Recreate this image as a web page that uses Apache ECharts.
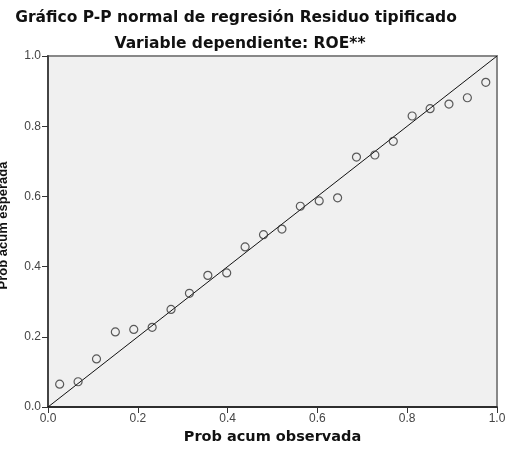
<!DOCTYPE html>
<html><head><meta charset="utf-8">
<script src="https://cdn.jsdelivr.net/npm/echarts@6/dist/echarts.min.js"></script>
<style>html,body{margin:0;padding:0;background:#fff}#c{width:508px;height:454px}</style>
</head><body><div id="c"></div>
<script>
var titleText = "Gráfico P-P normal de regresión Residuo tipificado";
var subtitleText = "Variable dependiente: ROE**";
var xName = "Prob acum observada";
var yName = "Prob acum esperada";
var observed = [0.026,0.067,0.108,0.150,0.191,0.232,0.274,0.315,0.356,0.398,0.439,0.480,0.521,0.562,0.604,0.645,0.687,0.728,0.769,0.811,0.851,0.893,0.934,0.975];
var expected = [0.065,0.072,0.137,0.214,0.221,0.227,0.278,0.324,0.375,0.382,0.456,0.491,0.507,0.572,0.587,0.596,0.712,0.718,0.757,0.829,0.850,0.863,0.881,0.925];
var diagX = [0, 1];
var diagY = [0, 1];

var pts = observed.map(function(v,i){return [v, expected[i]];});
var diag = diagX.map(function(v,i){return [v, diagY[i]];});
var chart = echarts.init(document.getElementById('c'));
var axisCommon = {
  type:'value', min:0, max:1, interval:0.2,
  splitLine:{show:false},
  axisTick:{show:true, length:6, lineStyle:{color:'#333', width:1}},
  axisLabel:{color:'#444', fontSize:12, fontFamily:'Liberation Sans, Arial', formatter:function(v){return v.toFixed(1);}},
  nameLocation:'middle'
};
chart.setOption({
  animation:false,
  title:[
    {text:titleText, left:231, textAlign:'center', top:5, textStyle:{fontSize:15.5, fontWeight:'bold', color:'#111', fontFamily:'DejaVu Sans'}},
    {text:subtitleText, left:235, textAlign:'center', top:31, textStyle:{fontSize:15.5, fontWeight:'bold', color:'#111', fontFamily:'DejaVu Sans'}}
  ],
  grid:{left:48, right:11, top:56, bottom:47, containLabel:false, outerBoundsMode:'none', show:true, backgroundColor:'#f0f0f0', borderColor:'#888', borderWidth:2},
  xAxis:Object.assign({}, axisCommon, {name:xName, nameGap:23,
    nameTextStyle:{color:'#111', fontSize:14.5, fontWeight:'bold', fontFamily:'DejaVu Sans'},
    axisLine:{show:true, onZero:false, lineStyle:{color:'#111', width:1.5}},
    axisLabel:Object.assign({}, axisCommon.axisLabel, {margin:6})}),
  yAxis:Object.assign({}, axisCommon, {name:yName, nameGap:38,
    nameTextStyle:{color:'#111', fontSize:13, fontWeight:'bold', fontFamily:'Liberation Sans, Arial', padding:[0,0,0,12]},
    axisLine:{show:true, onZero:false, lineStyle:{color:'#444', width:2}},
    axisLabel:Object.assign({}, axisCommon.axisLabel, {margin:7})}),
  series:[
    {type:'line', data:diag, showSymbol:false, symbol:'none', lineStyle:{color:'#111', width:1}, silent:true, z:2},
    {type:'scatter', data:pts, symbol:'circle', symbolSize:8,
     itemStyle:{color:'rgba(0,0,0,0)', borderColor:'#333', borderWidth:1.2}, z:3}
  ]
});
</script></body></html>
